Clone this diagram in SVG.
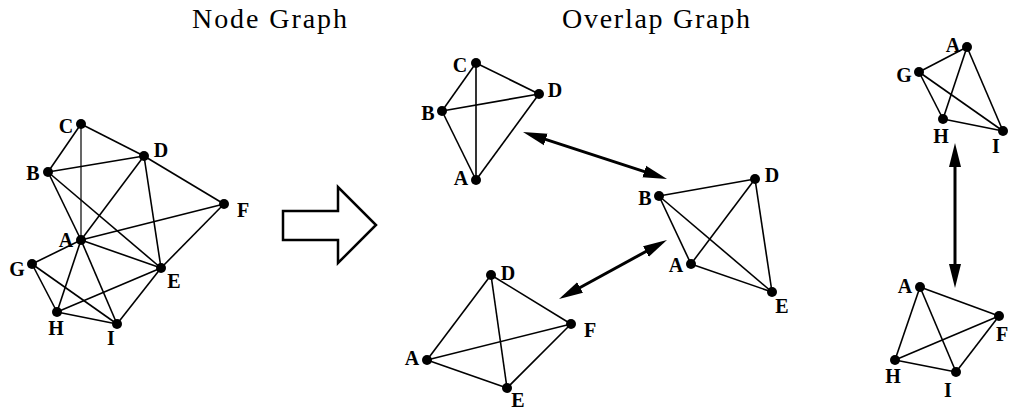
<svg xmlns="http://www.w3.org/2000/svg" width="1010" height="413" viewBox="0 0 1010 413">
<style>
.e{stroke:#000;stroke-width:1.6;fill:none}
.e2{stroke:#000;stroke-width:1.2;fill:none}
.n{fill:#000}
.l{font-family:"Liberation Serif",serif;font-weight:bold;font-size:20px;fill:#000;text-anchor:middle}
.t{font-family:"Liberation Serif",serif;font-size:28px;fill:#000}
.da{stroke:#000;stroke-width:3;fill:none;marker-start:url(#ah);marker-end:url(#ah)}
</style>
<defs>
<marker id="ah" markerUnits="userSpaceOnUse" markerWidth="26" markerHeight="14" viewBox="0 0 26 14" refX="14" refY="7" orient="auto-start-reverse">
<path d="M0,1 L24,7 L0,13 z" fill="#000"/>
</marker>
</defs>
<rect width="1010" height="413" fill="#fff"/>
<text class="t" x="192" y="28" textLength="155" lengthAdjust="spacing">Node Graph</text>
<text class="t" x="562" y="28" textLength="188" lengthAdjust="spacing">Overlap Graph</text>

<g id="connectors">
<!-- left graph edges -->
<line class="e" x1="81" y1="124" x2="144" y2="156"/>
<line class="e" x1="81" y1="124" x2="48" y2="172"/>
<line class="e2" x1="81" y1="124" x2="81" y2="240"/>
<line class="e" x1="48" y1="172" x2="144" y2="156"/>
<line class="e" x1="48" y1="172" x2="81" y2="240"/>
<line class="e" x1="48" y1="172" x2="161" y2="268"/>
<line class="e" x1="144" y1="156" x2="81" y2="240"/>
<line class="e" x1="144" y1="156" x2="161" y2="268"/>
<line class="e" x1="144" y1="156" x2="224" y2="204"/>
<line class="e" x1="224" y1="204" x2="81" y2="240"/>
<line class="e" x1="224" y1="204" x2="161" y2="268"/>
<line class="e" x1="81" y1="240" x2="161" y2="268"/>
<line class="e" x1="81" y1="240" x2="32" y2="264"/>
<line class="e" x1="81" y1="240" x2="57" y2="312"/>
<line class="e" x1="81" y1="240" x2="117" y2="324"/>
<line class="e" x1="32" y1="264" x2="57" y2="312"/>
<line class="e" x1="32" y1="264" x2="117" y2="324"/>
<line class="e" x1="57" y1="312" x2="161" y2="268"/>
<line class="e" x1="57" y1="312" x2="117" y2="324"/>
<line class="e" x1="117" y1="324" x2="161" y2="268"/>
<!-- middle top -->
<line class="e" x1="476" y1="63" x2="442" y2="111"/>
<line class="e" x1="476" y1="63" x2="539" y2="94"/>
<line class="e" x1="476" y1="63" x2="476" y2="180"/>
<line class="e" x1="442" y1="111" x2="539" y2="94"/>
<line class="e" x1="442" y1="111" x2="476" y2="180"/>
<line class="e" x1="539" y1="94" x2="476" y2="180"/>
<!-- middle right -->
<line class="e" x1="659" y1="196" x2="755" y2="179"/>
<line class="e" x1="659" y1="196" x2="691" y2="264"/>
<line class="e" x1="659" y1="196" x2="772" y2="292"/>
<line class="e" x1="755" y1="179" x2="691" y2="264"/>
<line class="e" x1="755" y1="179" x2="772" y2="292"/>
<line class="e" x1="691" y1="264" x2="772" y2="292"/>
<!-- bottom middle -->
<line class="e" x1="491" y1="275" x2="427" y2="360"/>
<line class="e" x1="491" y1="275" x2="571" y2="324"/>
<line class="e" x1="491" y1="275" x2="507" y2="388"/>
<line class="e" x1="427" y1="360" x2="571" y2="324"/>
<line class="e" x1="427" y1="360" x2="507" y2="388"/>
<line class="e" x1="507" y1="388" x2="571" y2="324"/>
<!-- right top -->
<line class="e" x1="967" y1="47" x2="919" y2="72"/>
<line class="e" x1="967" y1="47" x2="943" y2="119"/>
<line class="e" x1="967" y1="47" x2="1003" y2="131"/>
<line class="e" x1="919" y1="72" x2="943" y2="119"/>
<line class="e" x1="919" y1="72" x2="1003" y2="131"/>
<line class="e" x1="943" y1="119" x2="1003" y2="131"/>
<!-- right bottom -->
<line class="e" x1="920" y1="287" x2="999" y2="316"/>
<line class="e" x1="920" y1="287" x2="895" y2="360"/>
<line class="e" x1="920" y1="287" x2="956" y2="372"/>
<line class="e" x1="999" y1="316" x2="895" y2="360"/>
<line class="e" x1="999" y1="316" x2="956" y2="372"/>
<line class="e" x1="895" y1="360" x2="956" y2="372"/>
<!-- overlap double arrows -->
<line class="da" x1="532.5" y1="135.1" x2="657.5" y2="175.9"/>
<line class="da" x1="658.2" y1="244.8" x2="567.8" y2="294.2"/>
<line class="da" x1="955" y1="153" x2="955" y2="278"/>
<!-- block arrow -->
<polygon points="283,211 338,211 338,187 376,225 338,263 338,240 283,240" fill="none" stroke="#000" stroke-width="2.5" stroke-linejoin="miter"/>
</g>

<g id="node-graph">
<g id="ng-C"><circle class="n" cx="81" cy="124" r="5"/><text class="l" x="66" y="133">C</text></g>
<g id="ng-D"><circle class="n" cx="144" cy="156" r="5"/><text class="l" x="161" y="157">D</text></g>
<g id="ng-B"><circle class="n" cx="48" cy="172" r="5"/><text class="l" x="33" y="180">B</text></g>
<g id="ng-F"><circle class="n" cx="224" cy="204" r="5"/><text class="l" x="243" y="217">F</text></g>
<g id="ng-A"><circle class="n" cx="81" cy="240" r="5"/><text class="l" x="66" y="247">A</text></g>
<g id="ng-G"><circle class="n" cx="32" cy="264" r="5"/><text class="l" x="17" y="276">G</text></g>
<g id="ng-E"><circle class="n" cx="161" cy="268" r="5"/><text class="l" x="174" y="288">E</text></g>
<g id="ng-H"><circle class="n" cx="57" cy="312" r="5"/><text class="l" x="56" y="335">H</text></g>
<g id="ng-I"><circle class="n" cx="117" cy="324" r="5"/><text class="l" x="111" y="345">I</text></g>
</g>

<g id="ov1">
<g id="ov1-C"><circle class="n" cx="476" cy="63" r="5"/><text class="l" x="460" y="72">C</text></g>
<g id="ov1-D"><circle class="n" cx="539" cy="94" r="5"/><text class="l" x="555" y="97">D</text></g>
<g id="ov1-B"><circle class="n" cx="442" cy="111" r="5"/><text class="l" x="428" y="120">B</text></g>
<g id="ov1-A"><circle class="n" cx="476" cy="180" r="5"/><text class="l" x="461" y="185">A</text></g>
</g>

<g id="ov2">
<g id="ov2-B"><circle class="n" cx="659" cy="196" r="5"/><text class="l" x="645" y="205">B</text></g>
<g id="ov2-D"><circle class="n" cx="755" cy="179" r="5"/><text class="l" x="772" y="182">D</text></g>
<g id="ov2-A"><circle class="n" cx="691" cy="264" r="5"/><text class="l" x="676" y="272">A</text></g>
<g id="ov2-E"><circle class="n" cx="772" cy="292" r="5"/><text class="l" x="782" y="313">E</text></g>
</g>

<g id="ov3">
<g id="ov3-D"><circle class="n" cx="491" cy="275" r="5"/><text class="l" x="508" y="280">D</text></g>
<g id="ov3-F"><circle class="n" cx="571" cy="324" r="5"/><text class="l" x="590" y="337">F</text></g>
<g id="ov3-A"><circle class="n" cx="427" cy="360" r="5"/><text class="l" x="412" y="365">A</text></g>
<g id="ov3-E"><circle class="n" cx="507" cy="388" r="5"/><text class="l" x="518" y="407">E</text></g>
</g>

<g id="ov4">
<g id="ov4-A"><circle class="n" cx="967" cy="47" r="5"/><text class="l" x="953" y="52">A</text></g>
<g id="ov4-G"><circle class="n" cx="919" cy="72" r="5"/><text class="l" x="904" y="82">G</text></g>
<g id="ov4-H"><circle class="n" cx="943" cy="119" r="5"/><text class="l" x="941" y="143">H</text></g>
<g id="ov4-I"><circle class="n" cx="1003" cy="131" r="5"/><text class="l" x="996" y="153">I</text></g>
</g>

<g id="ov5">
<g id="ov5-A"><circle class="n" cx="920" cy="287" r="5"/><text class="l" x="905" y="293">A</text></g>
<g id="ov5-F"><circle class="n" cx="999" cy="316" r="5"/><text class="l" x="996" y="341" style="text-anchor:start">F</text></g>
<g id="ov5-H"><circle class="n" cx="895" cy="360" r="5"/><text class="l" x="893" y="383">H</text></g>
<g id="ov5-I"><circle class="n" cx="956" cy="372" r="5"/><text class="l" x="948" y="397">I</text></g>
</g>
</svg>
